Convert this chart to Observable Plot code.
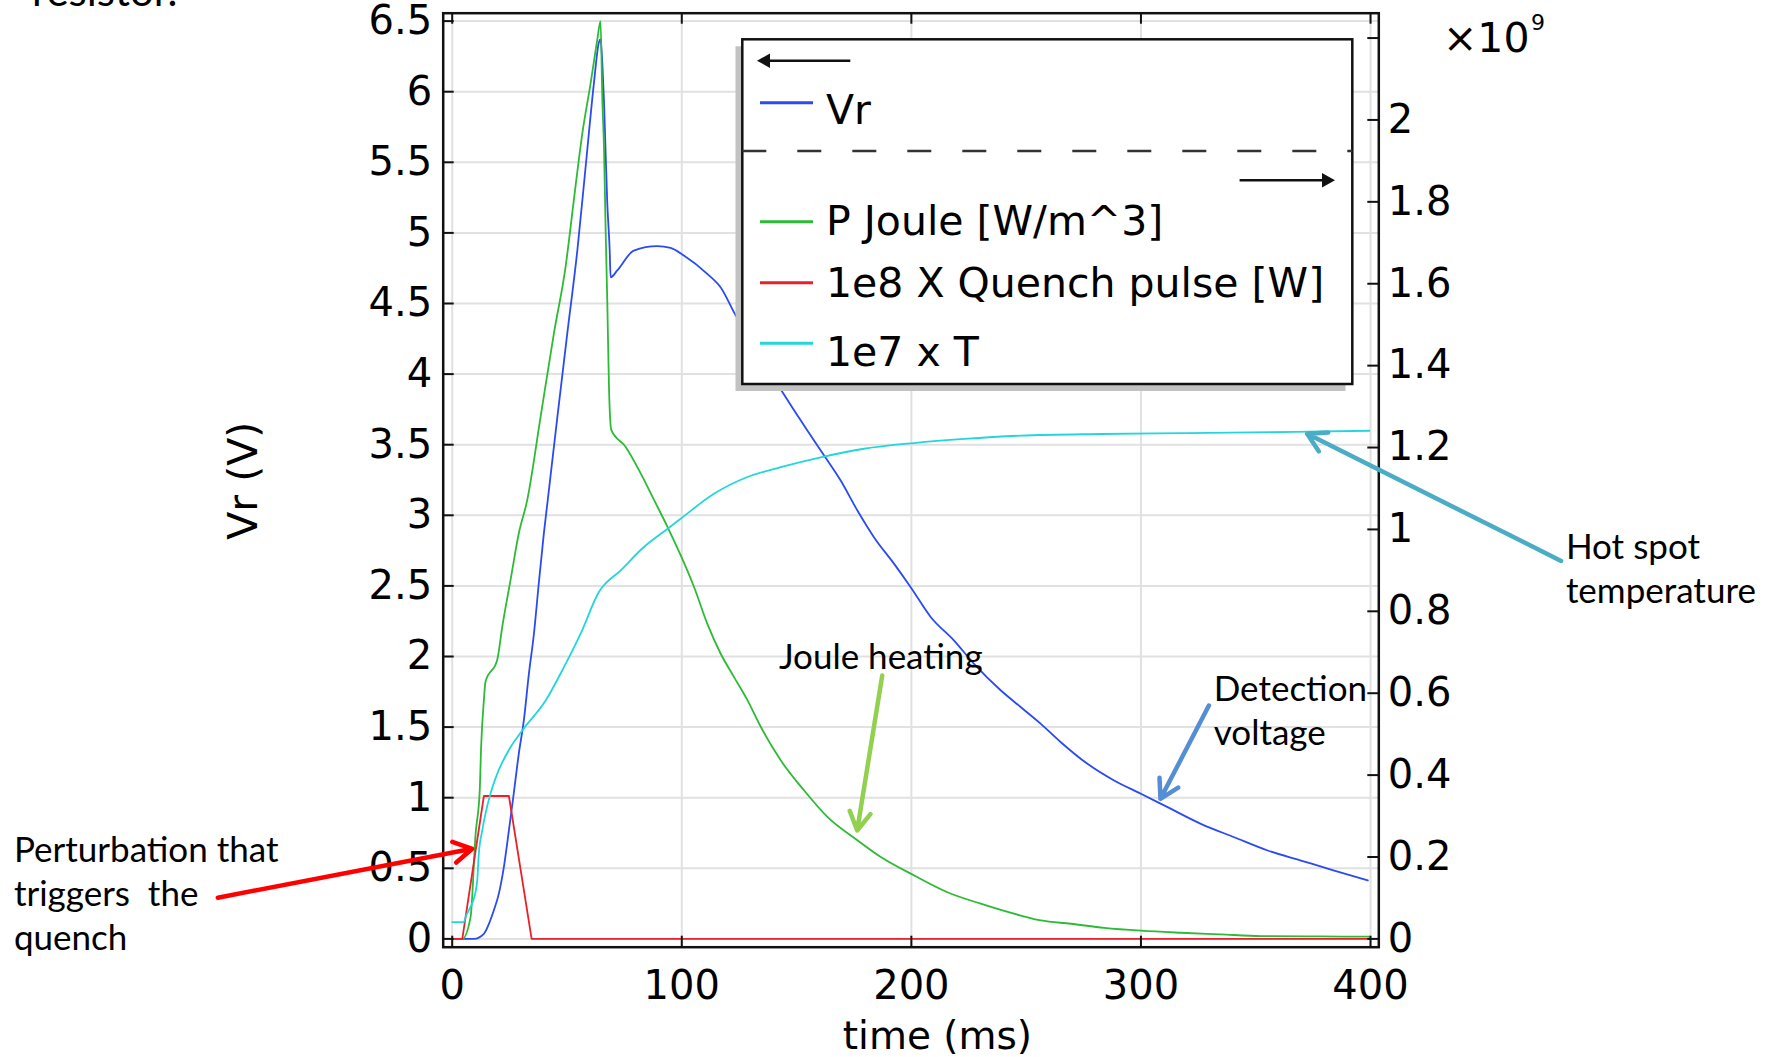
<!DOCTYPE html>
<html>
<head>
<meta charset="utf-8">
<script src="https://cdn.jsdelivr.net/npm/d3@7"></script>
<script src="https://cdn.jsdelivr.net/npm/@observablehq/plot@0.6"></script>
<style>
  html, body { margin: 0; padding: 0; background: #fff; }
  #chart { position: relative; width: 1771px; height: 1057px; overflow: hidden; }
  svg text { white-space: pre; }
</style>
</head>
<body>
<div id="chart"></div>
<script>
// ---------------- data ----------------
// time axis (ms)
const xTicks = [0, 100, 200, 300, 400];
// left axis: Vr (V)
const leftTicks = [0, 0.5, 1, 1.5, 2, 2.5, 3, 3.5, 4, 4.5, 5, 5.5, 6, 6.5];
// right axis (x10^9)
const rightTicks = [0, 0.2, 0.4, 0.6, 0.8, 1, 1.2, 1.4, 1.6, 1.8, 2, 2.2];
const rightLabelTicks = [0, 0.2, 0.4, 0.6, 0.8, 1, 1.2, 1.4, 1.6, 1.8, 2];

// Vr (left axis, V)
const vrTime = [0, 9.4, 13.8, 16.0, 18.1, 20.3, 22.5, 24.7, 26.8, 29.0, 31.2, 33.4, 35.6, 37.7, 39.9, 41.6, 45.8, 50.1, 54.5, 58.1, 61.7, 63.9, 64.6, 65.4, 66.1, 66.8, 67.5, 68.6, 69.0, 71.9, 79.1, 89.3, 95.1, 100.9, 111.1, 116.9, 123.1, 142.5, 154.7, 162.0, 169.2, 176.5, 183.7, 192.5, 199.7, 208.5, 218.6, 227.3, 239.0, 247.7, 256.4, 265.1, 276.7, 288.3, 300.0, 311.6, 326.1, 340.6, 355.2, 369.7, 384.2, 398.8];
const vrVolt = [0, 0, 0.036, 0.107, 0.201, 0.319, 0.508, 0.768, 1.028, 1.311, 1.547, 1.877, 2.161, 2.515, 2.869, 3.105, 3.695, 4.285, 4.875, 5.465, 6.056, 6.35, 6.37, 6.2, 5.94, 5.58, 5.23, 4.875, 4.686, 4.734, 4.875, 4.906, 4.894, 4.84, 4.71, 4.615, 4.427, 3.907, 3.6, 3.423, 3.246, 3.034, 2.845, 2.656, 2.491, 2.278, 2.113, 1.948, 1.759, 1.641, 1.523, 1.393, 1.240, 1.122, 1.028, 0.933, 0.815, 0.720, 0.626, 0.555, 0.484, 0.414];

// P Joule [W/m^3] (right axis, x10^9)
const jouleTime = [0, 4.4, 8.0, 10.2, 12.0, 12.6, 13.8, 14.5, 19.6, 21.8, 25.4, 29.0, 32.7, 38.5, 44.3, 49.4, 53.0, 56.7, 60.3, 63.2, 64.6, 65.4, 66.1, 66.8, 67.6, 68.3, 69.3, 75.5, 82.1, 87.9, 93.7, 99.5, 105.3, 111.1, 116.9, 122.7, 128.6, 134.4, 143.1, 153.2, 163.4, 176.5, 186.7, 201.2, 215.7, 230.2, 247.7, 256.4, 269.5, 284.0, 300, 317.4, 334.8, 352.3, 378.4, 399.5];
const jouleValue = [0, 0, 0.053, 0.257, 0.363, 0.469, 0.583, 0.628, 0.681, 0.762, 0.876, 0.990, 1.072, 1.275, 1.479, 1.642, 1.805, 1.968, 2.090, 2.196, 2.241, 2.050, 1.935, 1.740, 1.544, 1.345, 1.243, 1.202, 1.137, 1.072, 1.007, 0.937, 0.860, 0.770, 0.697, 0.640, 0.583, 0.518, 0.436, 0.363, 0.298, 0.241, 0.200, 0.155, 0.114, 0.086, 0.057, 0.045, 0.037, 0.027, 0.020, 0.015, 0.011, 0.007, 0.006, 0.0055];

// 1e8 X Quench pulse [W] (right axis, x10^9)
const pulseTime = [0, 4.4, 13.8, 24.7, 34.6, 400];
const pulseValue = [0, 0, 0.349, 0.349, 0, 0];

// 1e7 x T (right axis, x10^9)
const tempTime = [0, 5.1, 5.8, 8.0, 9.4, 10.9, 11.6, 13.1, 14.5, 16.7, 19.6, 25.4, 30.5, 40.7, 48.6, 55.9, 63.9, 73.4, 83.5, 93.7, 99.5, 114.0, 128.6, 143.1, 160.5, 179.4, 201.2, 223.0, 247.7, 282.6, 320.3, 366.8, 399.5];
const tempValue = [0.041, 0.041, 0.053, 0.078, 0.098, 0.143, 0.208, 0.265, 0.306, 0.355, 0.403, 0.468, 0.509, 0.582, 0.663, 0.745, 0.847, 0.900, 0.957, 1.001, 1.026, 1.087, 1.128, 1.152, 1.176, 1.197, 1.211, 1.221, 1.229, 1.233, 1.235, 1.238, 1.241];

const legendLabels = ["Vr", "P Joule [W/m^3]", "1e8 X Quench pulse [W]", "1e7 x T"];

// annotations (time ms, Vr-axis value)
const noteTexts = ["Joule heating", "Detection\nvoltage", "Hot spot\ntemperature", "Perturbation that\ntriggers  the\nquench"];
const noteX = [142.3, 331.7, 485.1, -190.9];
const noteY = [1.913, 1.370, 2.380, -0.078];
const arrowX1 = [187.3, 329.6, 483.0, -102.1];
const arrowY1 = [1.865, 1.653, 2.677, 0.292];
const arrowX2 = [176.4, 308.5, 372.4, 8.7];
const arrowY2 = [0.768, 0.992, 3.577, 0.638];
const arrowColors = ["#92d050", "#558ed5", "#4bacc6", "#ff0000"];

// ---------------- chart ----------------
const K = 2.9; // left-axis volts per 1e9 on the right axis
const xDomain = [-3.92, 403.6];
const yDomain = [-0.0588, 6.556];
const colors = {vr: "#2a4af5", joule: "#2dbb35", pulse: "#e8222a", temp: "#22d6dc"};

const zip = (ts, vs, f = 1) => ts.slice(0, Math.min(ts.length, vs.length)).map((t, i) => ({t, v: vs[i] * f}));
const vr = zip(vrTime, vrVolt);
const joule = zip(jouleTime, jouleValue, K);
const pulse = zip(pulseTime, pulseValue, K);
const temp = zip(tempTime, tempValue, K);

const W = 1771, H = 1057, mL = 442.7, mR = 392.7, mT = 12.7, mB = 110.3;
const pxX = (W - mL - mR) / (xDomain[1] - xDomain[0]);
const pxY = (H - mT - mB) / (yDomain[1] - yDomain[0]);
const tickLen = 11;
const tx = tickLen / pxX, ty = tickLen / pxY;
const gridColor = "#e1e1e1";
const ink = "#111";

const arrows = arrowX1.map((x1, i) => ({x1, y1: arrowY1[i], x2: arrowX2[i], y2: arrowY2[i], color: arrowColors[i]}));
const notes = noteTexts.map((text, i) => ({text, x: noteX[i], y: noteY[i]}));

const plot = Plot.plot({
  width: W, height: H,
  marginLeft: mL, marginRight: mR, marginTop: mT, marginBottom: mB,
  x: {domain: xDomain},
  y: {domain: yDomain},
  style: {fontFamily: "'DejaVu Sans', sans-serif", fontSize: "40px", color: "#000", background: "#fff", overflow: "visible"},
  marks: [
    Plot.ruleY(leftTicks, {stroke: gridColor, strokeWidth: 2}),
    Plot.ruleX(xTicks, {stroke: gridColor, strokeWidth: 2}),
    Plot.line(vr, {x: "t", y: "v", stroke: colors.vr, strokeWidth: 1.8, curve: "monotone-x"}),
    Plot.line(joule, {x: "t", y: "v", stroke: colors.joule, strokeWidth: 1.8, curve: "monotone-x"}),
    Plot.line(pulse, {x: "t", y: "v", stroke: colors.pulse, strokeWidth: 1.8}),
    Plot.line(temp, {x: "t", y: "v", stroke: colors.temp, strokeWidth: 1.8, curve: "monotone-x"}),
    Plot.frame({stroke: ink, strokeWidth: 2.5}),
    // inward tick marks
    Plot.ruleY(leftTicks, {x1: xDomain[0], x2: xDomain[0] + tx, stroke: ink, strokeWidth: 2}),
    Plot.ruleY(rightTicks.map(r => r * K), {x1: xDomain[1] - tx, x2: xDomain[1], stroke: ink, strokeWidth: 2}),
    Plot.ruleX(xTicks, {y1: yDomain[0], y2: yDomain[0] + ty, stroke: ink, strokeWidth: 2}),
    Plot.ruleX(xTicks, {y1: yDomain[1] - ty, y2: yDomain[1], stroke: ink, strokeWidth: 2}),
    // tick labels
    Plot.axisX(xTicks, {anchor: "bottom", tickSize: 0, tickPadding: 23, fontSize: 40, label: null, tickFormat: d => String(d)}),
    Plot.axisY(leftTicks, {anchor: "left", tickSize: 0, tickPadding: 11, fontSize: 40, label: null, tickFormat: d => String(d)}),
    Plot.axisY(rightLabelTicks.map(r => r * K), {anchor: "right", tickSize: 0, tickPadding: 9, fontSize: 40, label: null,
      tickFormat: d => String(Math.round(d / K * 10) / 10)}),
    // annotations
    ...arrows.map(a => Plot.arrow([a], {x1: "x1", y1: "y1", x2: "x2", y2: "y2", stroke: a.color, strokeWidth: 4.5, headLength: 7, headAngle: 60})),
    ...notes.map(n => Plot.text([n], {x: "x", y: "y", text: "text", textAnchor: "start", lineAnchor: "bottom", lineHeight: 1.26,
      fontFamily: "Lato, 'Open Sans', sans-serif", fontSize: 35, fill: "#000"}))
  ]
});

document.getElementById("chart").appendChild(plot);

// ---------------- decorations: titles, legend, exponent ----------------
const svg = d3.select(plot);
const deco = svg.append("g").attr("font-family", "'DejaVu Sans', sans-serif").attr("fill", "#000").attr("text-anchor", "start");

deco.append("text").attr("x", 937.4).attr("y", 1049).attr("text-anchor", "middle").attr("font-size", 39).text("time (ms)");
deco.append("text").attr("transform", "translate(242.5,480.8) rotate(-90)").attr("text-anchor", "middle")
  .attr("dy", "0.36em").attr("font-size", 41).text("Vr (V)");

deco.append("text").attr("x", 1443).attr("y", 51.7).attr("font-size", 41).text("×10");
deco.append("text").attr("x", 1531).attr("y", 30).attr("font-size", 22).text("9");

// cropped slide text at the very top
deco.append("text").attr("x", 32).attr("y", 6).attr("font-family", "Lato, sans-serif").attr("font-size", 42).text("resistor.");

// legend
const lg = deco.append("g");
lg.append("rect").attr("x", 735.5).attr("y", 46.3).attr("width", 610).attr("height", 344.7).attr("fill", "#c2c2c2");
lg.append("rect").attr("x", 742.3).attr("y", 39.3).attr("width", 610).attr("height", 344.7)
  .attr("fill", "#fff").attr("stroke", ink).attr("stroke-width", 2.5);
// left-axis arrow
lg.append("line").attr("x1", 766).attr("x2", 850.3).attr("y1", 60.7).attr("y2", 60.7).attr("stroke", ink).attr("stroke-width", 2.5);
lg.append("path").attr("d", "M757,60.7L770,53.5L770,67.9Z").attr("fill", ink);
// separator
lg.append("line").attr("x1", 742.3).attr("x2", 1352.3).attr("y1", 151).attr("y2", 151)
  .attr("stroke", "#333").attr("stroke-width", 2.5).attr("stroke-dasharray", "24 31");
// right-axis arrow
lg.append("line").attr("x1", 1239.6).attr("x2", 1326).attr("y1", 180.3).attr("y2", 180.3).attr("stroke", ink).attr("stroke-width", 2.5);
lg.append("path").attr("d", "M1335,180.3L1322,173L1322,187.6Z").attr("fill", ink);

const legendColors = [colors.vr, colors.joule, colors.pulse, colors.temp];
const swatchY = [102.7, 221.7, 282.7, 343.3];
const textBase = [124, 235, 296.7, 365.7];
legendLabels.forEach((label, i) => {
  lg.append("line").attr("x1", 760).attr("x2", 813).attr("y1", swatchY[i]).attr("y2", swatchY[i])
    .attr("stroke", legendColors[i]).attr("stroke-width", 3);
  lg.append("text").attr("x", 826).attr("y", textBase[i]).attr("font-size", 41).text(label);
});
</script>
</body>
</html>
